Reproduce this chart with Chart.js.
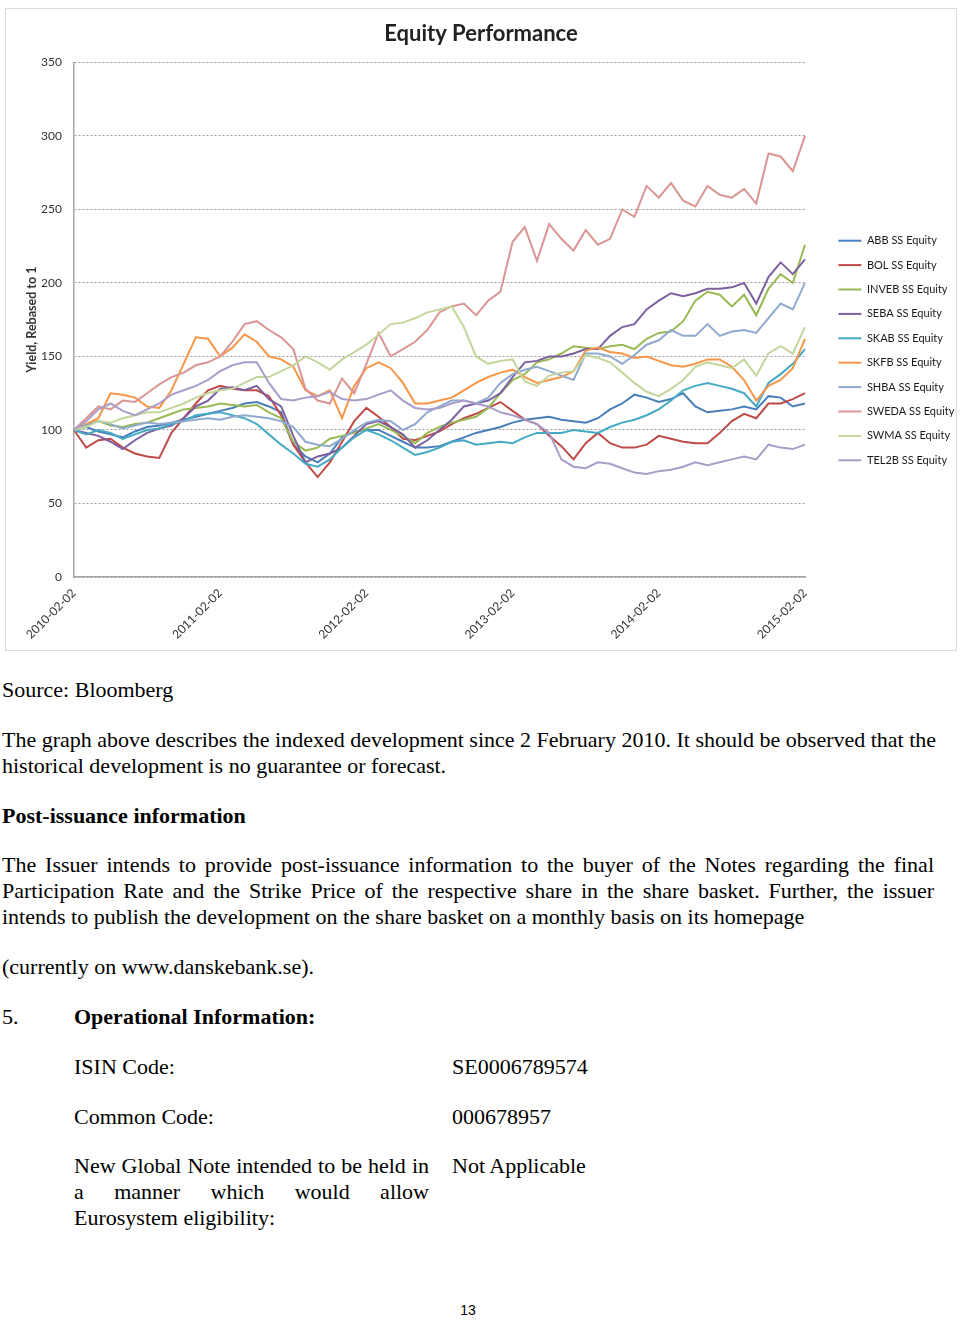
<!DOCTYPE html>
<html>
<head>
<meta charset="utf-8">
<script src="https://cdn.jsdelivr.net/npm/chart.js@4.4.0/dist/chart.umd.min.js"></script>
<style>
  body { margin: 0; background: #fff; width: 960px; height: 1320px; position: relative;
         font-family: "Liberation Serif", "Times New Roman", serif; color: #000; }
  #chartBox { position: absolute; left: 5px; top: 8px; width: 950px; height: 641px; border: 1px solid #dcdcdc; }
  .t { position: absolute; font-size: 22px; line-height: 26px; white-space: nowrap; }
  .j { text-align: justify; text-align-last: justify; }
  .pg { position: absolute; left: 0; width: 936px; top: 1302px; text-align: center;
        font-family: "Liberation Sans", Arial, sans-serif; font-size: 14px; }
</style>
</head>
<body>
<div id="chartBox"><canvas id="myChart"></canvas></div>

<div class="t" style="left:2px;top:677px">Source: Bloomberg</div>
<div class="t" style="left:2px;top:727px">The graph above describes the indexed development since 2 February 2010. It should be observed that the</div>
<div class="t" style="left:2px;top:753px">historical development is no guarantee or forecast.</div>
<div class="t" style="left:2px;top:803px"><b>Post-issuance information</b></div>
<div class="t j" style="left:2px;top:852px;width:932px">The Issuer intends to provide post-issuance information to the buyer of the Notes regarding the final</div>
<div class="t j" style="left:2px;top:878px;width:932px">Participation Rate and the Strike Price of the respective share in the share basket. Further, the issuer</div>
<div class="t" style="left:2px;top:904px">intends to publish the development on the share basket on a monthly basis on its homepage</div>
<div class="t" style="left:2px;top:954px">(currently on www.danskebank.se).</div>
<div class="t" style="left:2px;top:1004px">5.</div>
<div class="t" style="left:74px;top:1004px"><b>Operational Information:</b></div>
<div class="t" style="left:74px;top:1054px">ISIN Code:</div>
<div class="t" style="left:452px;top:1054px">SE0006789574</div>
<div class="t" style="left:74px;top:1104px">Common Code:</div>
<div class="t" style="left:452px;top:1104px">000678957</div>
<div class="t j" style="left:74px;top:1153px;width:355px">New Global Note intended to be held in</div>
<div class="t j" style="left:74px;top:1179px;width:355px">a manner which would allow</div>
<div class="t" style="left:74px;top:1205px">Eurosystem eligibility:</div>
<div class="t" style="left:452px;top:1153px">Not Applicable</div>
<div class="pg">13</div>

<script>
"use strict";

// x tick labels shown on the axis (yearly)
const tickLabels = ["2010-02-02", "2011-02-02", "2012-02-02", "2013-02-02", "2014-02-02", "2015-02-02"];

// monthly categories, Feb 2010 .. Feb 2015
const months = [];
for (let y = 2010; y <= 2015; y++) {
  for (let m = 1; m <= 12; m++) {
    if ((y === 2010 && m < 2) || (y === 2015 && m > 2)) continue;
    months.push(y + "-" + String(m).padStart(2, "0") + "-02");
  }
}

const seriesNames = [
  "ABB SS Equity", "BOL SS Equity", "INVEB SS Equity", "SEBA SS Equity", "SKAB SS Equity",
  "SKFB SS Equity", "SHBA SS Equity", "SWEDA SS Equity", "SWMA SS Equity", "TEL2B SS Equity"
];
const seriesColors = [
  "#4a7ebb", "#be4b48", "#98b954", "#7d60a0", "#46aac5",
  "#f79646", "#8eaacf", "#d99694", "#c3d69b", "#ab9cc9"
];

// rebased values (start = 100), one per month
const abb = [100,102,99,97,95,99,102,103,105,107,109,111,
  113,115,118,119,116,112,90,82,78,84,95,99,
  100,100,96,92,88,88,89,92,95,98,100,102,
  105,107,108,109,107,106,105,108,114,118,124,122,
  119,121,125,116,112,113,114,116,114,123,122,116,
  118];
const bol = [100,88,93,94,88,84,82,81,98,108,118,127,
  130,128,127,127,123,110,90,78,68,78,92,106,
  115,109,102,94,93,96,99,104,108,111,115,119,
  113,107,104,96,89,80,91,98,91,88,88,90,
  96,94,92,91,91,98,106,111,108,118,118,121,
  125];
const inveb = [100,104,106,103,102,104,105,108,111,114,115,116,
  118,117,116,117,112,108,92,86,88,94,96,98,
  101,104,100,96,91,98,102,105,107,109,115,125,
  134,138,146,148,152,157,156,155,157,158,155,162,
  166,167,174,188,194,192,184,192,178,196,206,200,
  226];
const seba = [100,98,96,92,87,93,98,101,103,108,116,120,
  128,129,127,130,121,116,96,78,82,84,88,96,
  104,106,102,97,88,93,100,107,116,118,120,125,
  136,146,147,150,150,152,155,155,164,170,172,182,
  188,193,191,193,196,196,197,200,186,204,214,206,
  216];
const skab = [100,97,100,98,94,97,100,101,104,106,110,111,
  112,110,108,104,97,90,84,77,75,80,88,95,
  100,97,93,88,83,85,88,92,93,90,91,92,
  91,95,98,98,98,100,99,98,102,105,107,110,
  114,120,127,130,132,130,128,125,116,132,138,145,
  155];
const skfb = [100,104,108,125,124,122,116,115,127,145,163,162,
  150,156,165,160,150,148,143,127,123,127,108,130,
  142,146,142,132,118,118,120,122,127,132,136,139,
  141,136,132,134,136,140,154,156,153,152,149,150,
  147,144,143,145,148,148,143,134,120,130,134,142,
  162];
const shba = [100,103,106,104,101,103,105,104,105,106,107,108,
  107,109,110,109,108,106,102,92,90,89,94,100,
  105,107,106,100,104,112,116,120,120,118,122,132,
  138,141,143,140,137,134,152,152,150,145,151,158,
  161,168,164,164,172,164,167,168,166,176,186,182,
  200];
const sweda = [100,108,116,114,120,119,125,131,136,139,144,146,
  150,160,172,174,168,163,155,128,120,118,135,125,
  145,166,150,155,160,168,180,184,186,178,188,194,
  228,238,215,240,230,222,236,226,230,250,245,266,
  258,268,256,252,266,260,258,264,254,288,286,276,
  300];
const swma = [100,102,106,105,108,110,112,112,115,118,122,125,
  127,128,132,136,136,140,144,150,146,141,148,153,
  158,165,172,173,176,180,182,184,170,150,145,147,
  148,133,130,137,139,140,151,149,146,139,132,126,
  123,128,134,143,146,144,142,148,137,152,157,152,
  170];
const tel2b = [100,106,114,118,113,110,114,118,124,127,130,134,
  140,144,146,146,132,121,120,122,123,126,121,120,
  121,124,127,120,115,114,115,118,120,118,116,112,
  110,107,104,98,80,75,74,78,77,74,71,70,
  72,73,75,78,76,78,80,82,80,90,88,87,
  90];

const seriesValues = [abb, bol, inveb, seba, skab, skfb, shba, sweda, swma, tel2b];

const yTitle = "Yield, Rebased to 1";
const chartTitle = "Equity Performance";

Chart.defaults.font.family = "Lato";

const datasets = seriesValues.map((vals, i) => ({
  label: seriesNames[i],
  data: vals,
  borderColor: seriesColors[i],
  backgroundColor: seriesColors[i],
  borderWidth: 2,
  pointRadius: 0,
  tension: 0,
  fill: false,
  yAxisID: "y",
  order: seriesValues.length - i
}));

const config = {
  type: "line",
  data: { labels: months, datasets },
  options: {
    responsive: true,
    maintainAspectRatio: false,
    animation: false,
    events: [],
    layout: { padding: { left: 0, right: 0, top: 0, bottom: 0 } },
    scales: {
      x: {
        grid: { display: false, drawTicks: false },
        border: { display: true, color: "#a6a6a6", width: 1.5 },
        ticks: {
          autoSkip: false,
          maxRotation: 45,
          minRotation: 45,
          padding: 9,
          color: "#333",
          font: { size: 12 },
          callback: (val, idx) => (tickLabels.includes(months[idx]) ? months[idx] : "")
        },
        afterFit: (s) => { s.height = 73; }
      },
      y: {
        min: 0,
        max: 350,
        grid: { color: "#9c9c9c", lineWidth: 1, drawTicks: false },
        border: { display: true, color: "#a6a6a6", width: 1.5, dash: [2, 2] },
        ticks: { stepSize: 50, padding: 12, color: "#333", font: { size: 12 } },
        title: {
          display: true,
          text: yTitle,
          color: "#333",
          font: { size: 12.5, weight: "bold" },
          padding: { top: 18, bottom: 0 }
        },
        afterFit: (s) => { s.width = 68; }
      },
      gap: {
        type: "linear",
        position: "right",
        display: true,
        grid: { display: false, drawTicks: false },
        border: { display: false },
        ticks: { display: false },
        afterFit: (s) => { s.width = 20; }
      }
    },
    plugins: {
      title: {
        display: true,
        text: chartTitle,
        color: "#222",
        font: { size: 22, weight: "bold" },
        padding: { top: 12, bottom: 15 }
      },
      legend: {
        position: "right",
        align: "center",
        maxWidth: 131,
        title: { display: true, text: "", font: { size: 10 }, padding: { top: 30, bottom: 0 } },
        labels: {
          usePointStyle: true,
          pointStyle: "line",
          pointStyleWidth: 23,
          padding: 13.4,
          color: "#1a1a1a",
          font: { size: 11 },
          sort: (a, b) => a.datasetIndex - b.datasetIndex
        }
      },
      tooltip: { enabled: false }
    }
  }
};

const myChart = new Chart(document.getElementById("myChart"), config);
</script>
</body>
</html>
